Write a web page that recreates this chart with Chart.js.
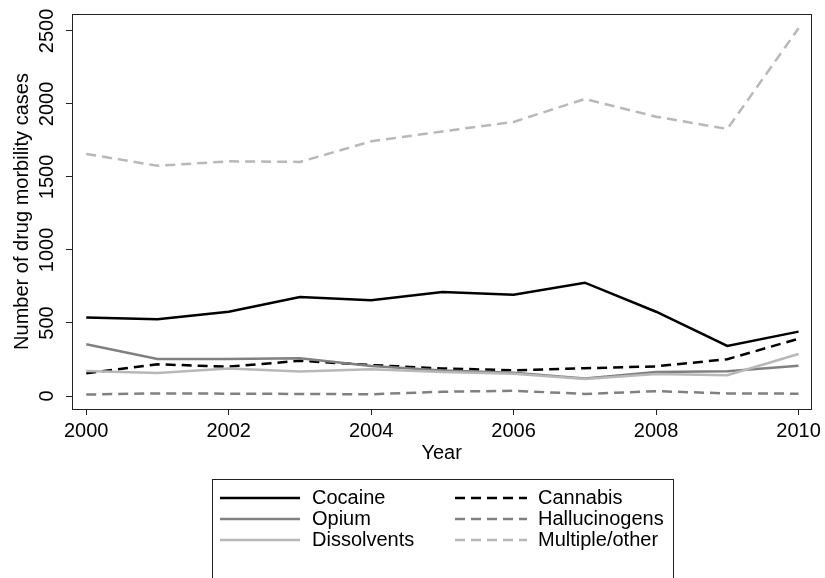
<!DOCTYPE html>
<html>
<head>
<meta charset="utf-8">
<script src="https://cdn.jsdelivr.net/npm/chart.js@4.4.1/dist/chart.umd.min.js"></script>
<style>
  html, body { margin: 0; padding: 0; background: #fff; }
  #wrap { width: 825px; height: 578px; }
</style>
</head>
<body>
<div id="wrap"><canvas id="chart" width="825" height="578"></canvas></div>
<script>
// values
const years = [2000, 2001, 2002, 2003, 2004, 2005, 2006, 2007, 2008, 2009, 2010];
const cocaine       = [538, 525, 577, 678, 655, 712, 694, 776, 577, 343, 441];
const cannabis      = [155, 217, 201, 241, 212, 189, 176, 190, 203, 252, 392];
const opium         = [355, 253, 253, 258, 205, 175, 160, 120, 165, 170, 208];
const hallucinogens = [10, 18, 16, 14, 12, 29, 36, 14, 33, 18, 16];
const dissolvents   = [171, 157, 188, 167, 184, 165, 153, 116, 151, 142, 288];
const multiple      = [1658, 1577, 1607, 1603, 1744, 1812, 1877, 2034, 1913, 1829, 2518];

const xTicks = [2000, 2002, 2004, 2006, 2008, 2010];
const yTicks = [0, 500, 1000, 1500, 2000, 2500];

const FONT = "'Liberation Sans', Arial, Helvetica, sans-serif";
Chart.defaults.font.family = FONT;
Chart.defaults.font.size = 20;
Chart.defaults.color = '#000';

const DASH = [10, 6];
const DARK = '#808080';
const LIGHT = '#b8b8b8';

function series(label, values, color, dash) {
    return {
        label: label,
        data: years.map((yr, i) => ({ x: yr, y: values[i] })),
        borderColor: color,
        borderWidth: 2.5,
        borderDash: dash,
        borderCapStyle: 'butt',
        pointRadius: 0,
        tension: 0,
        fill: false
    };
}

// legend slots: [column, row]
const legendSlots = {
    'Cocaine': [0, 0], 'Opium': [0, 1], 'Dissolvents': [0, 2],
    'Cannabis': [1, 0], 'Hallucinogens': [1, 1], 'Multiple/other': [1, 2]
};

const framePlugin = {
    id: 'frame',
    afterDraw(chart) {
        const { ctx, chartArea: a } = chart;
        ctx.save();
        ctx.strokeStyle = '#222';
        ctx.lineWidth = 1;
        ctx.strokeRect(Math.round(a.left) + 0.5, Math.round(a.top) + 0.5,
            Math.round(a.right - a.left), Math.round(a.bottom - a.top));

        // rotated y tick labels
        const ys = chart.scales.y;
        ctx.fillStyle = '#000';
        ctx.font = '20px ' + FONT;
        ctx.textAlign = 'center';
        ctx.textBaseline = 'alphabetic';
        ys.ticks.forEach(t => {
            ctx.save();
            ctx.translate(53, ys.getPixelForValue(t.value));
            ctx.rotate(-Math.PI / 2);
            ctx.fillText(String(t.value), 0, 0);
            ctx.restore();
        });

        // legend box
        ctx.strokeStyle = '#222';
        ctx.strokeRect(212.5, 479.5, 461, 130);
        const colLine = [[220, 300], [455, 527]];
        const colText = [312, 538];
        const rowY = [498, 519, 540];
        ctx.textAlign = 'left';
        ctx.textBaseline = 'middle';
        chart.data.datasets.forEach(ds => {
            const [c, r] = legendSlots[ds.label];
            ctx.save();
            ctx.strokeStyle = ds.borderColor;
            ctx.lineWidth = ds.borderWidth;
            ctx.setLineDash(ds.borderDash || []);
            ctx.beginPath();
            ctx.moveTo(colLine[c][0], rowY[r]);
            ctx.lineTo(colLine[c][1], rowY[r]);
            ctx.stroke();
            ctx.restore();
            ctx.fillText(ds.label, colText[c], rowY[r]);
        });
        ctx.restore();
    }
};

new Chart(document.getElementById('chart'), {
    type: 'line',
    data: {
        datasets: [
            series('Multiple/other', multiple, LIGHT, DASH),
            series('Hallucinogens', hallucinogens, DARK, DASH),
            series('Dissolvents', dissolvents, LIGHT, []),
            series('Opium', opium, DARK, []),
            series('Cannabis', cannabis, '#000', DASH),
            series('Cocaine', cocaine, '#000', [])
        ]
    },
    options: {
        responsive: false,
        animation: false,
        devicePixelRatio: 1,
        layout: { padding: { left: 0, top: 14, right: 13, bottom: 113 } },
        plugins: {
            legend: { display: false },
            tooltip: { enabled: false }
        },
        scales: {
            x: {
                type: 'linear',
                min: 1999.8,
                max: 2010.18,
                afterBuildTicks: s => { s.ticks = xTicks.map(v => ({ value: v })); },
                afterFit: s => { s.height = 56; },
                ticks: { padding: 4, callback: v => String(v), font: { size: 20, lineHeight: 1.2 } },
                grid: { drawOnChartArea: false, drawTicks: true, tickLength: 6, color: '#222' },
                border: { display: false },
                title: { display: true, text: 'Year', font: { size: 20, lineHeight: 1.2 }, padding: { top: 0, bottom: 0 } }
            },
            y: {
                type: 'linear',
                min: -89,
                max: 2616,
                afterBuildTicks: s => { s.ticks = yTicks.map(v => ({ value: v })); },
                afterFit: s => { s.width = 72; },
                ticks: { display: false },
                grid: { drawOnChartArea: false, drawTicks: true, tickLength: 6, color: '#222' },
                border: { display: false },
                title: {
                    display: true, text: 'Number of drug morbility cases',
                    font: { size: 20, lineHeight: 1.2 }, padding: { top: 10, bottom: 0 }
                }
            }
        }
    },
    plugins: [framePlugin]
});
</script>
</body>
</html>
